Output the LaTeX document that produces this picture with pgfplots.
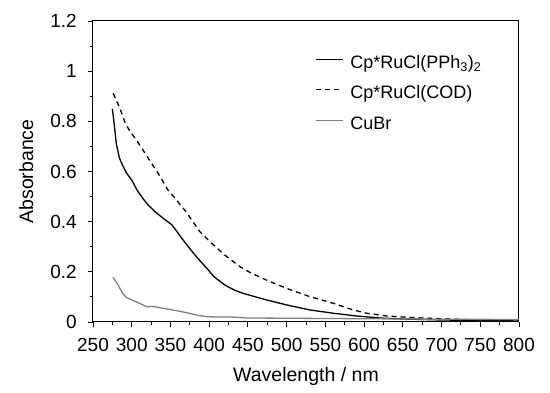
\documentclass[border=0pt]{standalone}
\usepackage{fontspec}
\setmainfont{Liberation Sans}
\usepackage{pgfplots}
\pgfplotsset{compat=1.18}
\definecolor{cubr}{RGB}{128,128,128}
\begin{document}
\begin{tikzpicture}
\begin{axis}[
  scale only axis,
  width=426pt, height=301pt,
  xmin=250, xmax=800, ymin=0, ymax=1.2,
  xtick={250,300,...,800},
  ytick={0,0.2,...,1.2},
  minor x tick num=1, minor y tick num=1,
  tick pos=left, tick align=outside,
  major tick length=5pt, minor tick length=3pt,
  every tick/.style={black, line width=0.9pt},
  axis line style={line width=1pt},
  /pgf/number format/assume math mode=true,
  yticklabel style={/pgf/number format/fixed, font=\fontsize{19}{22}\selectfont, inner sep=0pt, anchor=east, xshift=-11pt},
  xticklabel style={font=\fontsize{19}{22}\selectfont, inner sep=0pt, anchor=north, yshift=-11pt},
  scaled y ticks=false,
  xlabel={Wavelength / nm},
  ylabel={Absorbance},
  label style={font=\fontsize{19.5}{23}\selectfont},
  xlabel style={at={(axis description cs:0.5,-0.1993)}, anchor=base, inner sep=0pt},
  ylabel style={at={(axis description cs:-0.1408,0.5)}, anchor=base, inner sep=0pt},
  legend cell align=left,
  legend style={at={(rel axis cs:0.521,0.8904)}, anchor=north west, draw=none, fill=none,
    font=\fontsize{18}{22}\selectfont, inner sep=0pt, row sep=11.5pt,
    nodes={inner sep=0pt, text height=14pt, text depth=5pt},
    /tikz/every odd column/.append style={column sep=7pt}},
  legend image code/.code={\draw[#1] (0pt,4.5pt) -- (27pt,4.5pt);},
]
\addplot[black, line width=1.3pt] coordinates {
(275,0.850) (277,0.80) (280,0.712) (284,0.655) (287,0.633) (293,0.595) (300,0.566)
(307,0.525) (315,0.490) (321,0.467) (330,0.44) (340,0.415) (352,0.387) (362,0.345)
(373,0.300) (385,0.255) (399,0.207) (406,0.181) (420,0.148) (432,0.128) (444,0.114)
(460,0.100) (474,0.088) (500,0.068) (530,0.048) (560,0.035) (590,0.024) (620,0.016)
(650,0.012) (700,0.008) (750,0.006) (800,0.004)};
\addlegendentry{Cp*RuCl(PPh\textsubscript{3})\textsubscript{2}}
\addplot[black, line width=1.3pt, dash pattern=on 5pt off 4pt] coordinates {
(276,0.912) (285,0.85) (292,0.79) (298,0.759) (305,0.73) (313,0.693) (323,0.645)
(334,0.593) (347,0.525) (356,0.493) (370,0.44) (388,0.36) (401,0.32) (420,0.267)
(440,0.22) (453,0.197) (474,0.167) (500,0.134) (530,0.101) (560,0.075) (586,0.048)
(603,0.035) (629,0.024) (655,0.019) (681,0.015) (711,0.012) (750,0.008) (800,0.005)};
\addlegendentry{Cp*RuCl(COD)}
\addplot[cubr, line width=1.3pt] coordinates {
(276,0.178) (282,0.15) (288,0.115) (293,0.098) (300,0.088) (310,0.075) (319,0.061)
(328,0.062) (340,0.055) (349,0.050) (360,0.044) (371,0.037) (385,0.027) (397,0.021)
(410,0.020) (427,0.020) (450,0.016) (500,0.015) (600,0.013) (700,0.011) (800,0.010)};
\addlegendentry{CuBr}
\end{axis}
\path (-93pt,-71pt) rectangle (457pt,322pt);
\end{tikzpicture}
\end{document}
